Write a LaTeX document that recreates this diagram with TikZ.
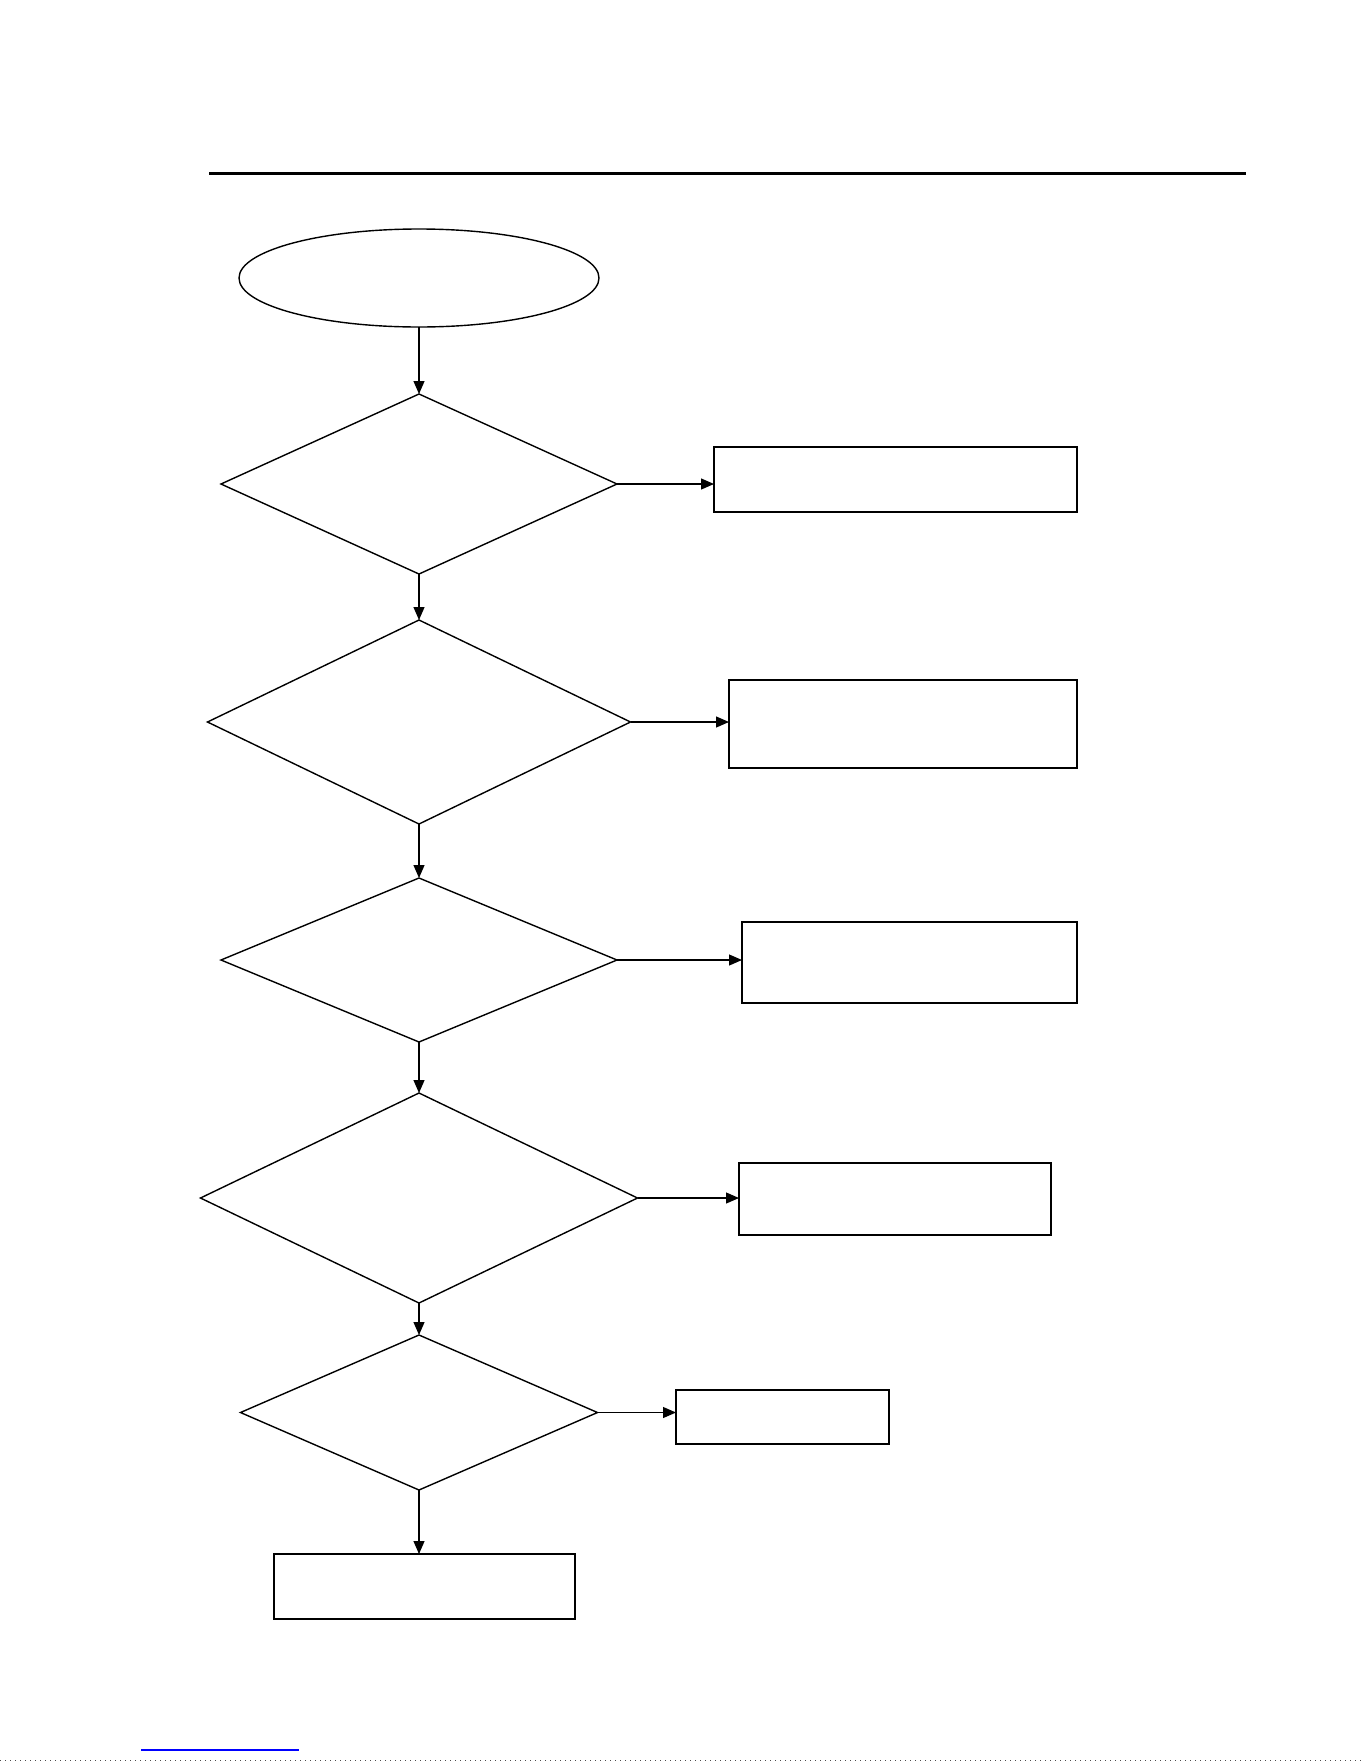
\documentclass[tikz,border=0pt]{standalone}
\usetikzlibrary{shapes.geometric,arrows.meta}
\begin{document}
\begin{tikzpicture}[x=0.5pt,y=-0.5pt,
  dec/.style={diamond,draw,line width=0.7pt,inner sep=0pt,outer sep=0pt},
  boxn/.style={rectangle,draw,line width=1pt,inner sep=0pt,outer sep=0pt},
  conn/.style={line width=0.6pt,-{Triangle[length=6.5pt,width=5.5pt]}}]
\useasboundingbox (0,0) rectangle (1361,1761);
\draw[line width=1.5pt] (209,173) coordinate (tl1) -- (1246,173) coordinate (tl2);
\node[ellipse,draw,line width=0.7pt,inner sep=0pt,outer sep=0pt,minimum width=180pt,minimum height=49pt] (ell) at (419,278) {};
\node[dec,minimum width=198pt,minimum height=90pt] (d1) at (419,484) {};
\node[dec,minimum width=211.5pt,minimum height=102pt] (d2) at (419,722) {};
\node[dec,minimum width=198pt,minimum height=82pt] (d3) at (419,960) {};
\node[dec,minimum width=218.5pt,minimum height=105pt] (d4) at (419,1198) {};
\node[dec,minimum width=178.5pt,minimum height=77.5pt] (d5) at (419,1412.5) {};
\node[boxn,minimum width=181.5pt,minimum height=32.5pt] (b1) at (895.5,479.5) {};
\node[boxn,minimum width=174pt,minimum height=44pt] (b2) at (903,724) {};
\node[boxn,minimum width=167.5pt,minimum height=40.5pt] (b3) at (909.5,962.5) {};
\node[boxn,minimum width=156pt,minimum height=36pt] (b4) at (895,1199) {};
\node[boxn,minimum width=106.5pt,minimum height=27pt] (b5) at (782.5,1417) {};
\node[boxn,minimum width=150.5pt,minimum height=32.5pt] (b6) at (424.5,1586.5) {};
\draw[conn] (ell.south) -- (d1.north);
\draw[conn] (d1.south) -- (d2.north);
\draw[conn] (d2.south) -- (d3.north);
\draw[conn] (d3.south) -- (d4.north);
\draw[conn] (d4.south) -- (d5.north);
\draw[conn] (d5.south) -- (d5.south |- b6.north);
\draw[conn] (d1.east) -- (d1.east -| b1.west);
\draw[conn] (d2.east) -- (d2.east -| b2.west);
\draw[conn] (d3.east) -- (d3.east -| b3.west);
\draw[conn] (d4.east) -- (d4.east -| b4.west);
\draw[conn] (d5.east) -- (d5.east -| b5.west);
\draw[blue,line width=0.8pt] (141,1750) coordinate (ln1) -- (299,1750) coordinate (ln2);
\draw[black!70,line width=0.5pt,dotted] (0,1760) coordinate (bl1) -- (1361,1760) coordinate (bl2);
\end{tikzpicture}
\end{document}
